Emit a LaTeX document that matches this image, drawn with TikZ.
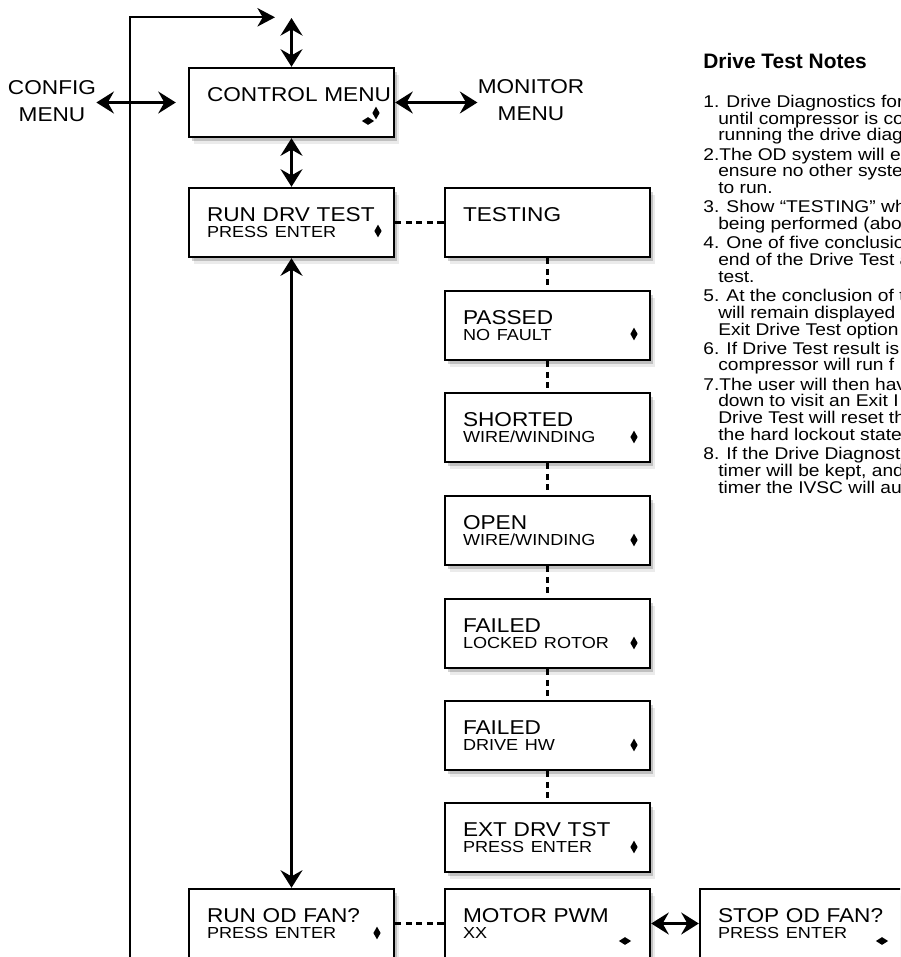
\documentclass[tikz,border=0pt]{standalone}
\usepackage{fontspec}
\setmainfont{Liberation Sans}
\newfontfamily\boxfont[FakeStretch=1.13]{Liberation Sans}
\newfontfamily\notefont[FakeStretch=1.13]{Liberation Sans}
\newfontfamily\headfont{Liberation Sans Bold}
\usetikzlibrary{arrows.meta,positioning,shapes.geometric,shadows}
\newcommand{\lowline}[1]{{\fontsize{9.1}{9.1}\selectfont #1}}
\newcommand{\hang}{\hspace*{8.5pt}}

\begin{document}
\begin{tikzpicture}[x=0.02cm,y=-0.02cm,
  screen/.style={draw,line width=1.4pt,fill=white,minimum width=4.1cm,minimum height=1.38cm,
    inner xsep=0.36cm,text width=3.38cm,align=left,font=\boxfont\fontsize{11.4}{9.1}\selectfont,
    drop shadow={shadow xshift=1.5pt,shadow yshift=-2pt,opacity=.18,fill=black},
    drop shadow={shadow xshift=3pt,shadow yshift=-4pt,opacity=.08,fill=black}},
  vdia/.style={diamond,fill=black,inner sep=0pt,minimum width=0.15cm,minimum height=0.26cm},
  hdia/.style={diamond,fill=black,inner sep=0pt,minimum width=0.25cm,minimum height=0.16cm},
  menu/.style={font=\boxfont\fontsize{11.4}{15.4}\selectfont,align=center,inner sep=0pt},
  link/.style={{Stealth[length=10pt,width=12.5pt,inset=3.5pt]}-{Stealth[length=10pt,width=12.5pt,inset=3.5pt]},line width=1.8pt},
  back/.style={-{Stealth[length=10pt,width=10.5pt,inset=3pt]},line width=1.25pt},
  dotline/.style={dash pattern=on 3.5pt off 2.5pt,line width=1.7pt},
  notes/.style={font=\notefont\fontsize{9.67}{9.55}\selectfont,align=left,inner sep=0pt}]
  \useasboundingbox (0,0) rectangle (900,957);
  \clip (0,0) rectangle (900,957);
  \fill[white] (0,0) rectangle (900,957);
  % Menus
  \node[screen] (ctrl) at (291.5,102.5) {CONTROL~MENU\\\mbox{}};
  \node[vdia] (ctrlkeyv) at ([shift={(84.5,10.5)}]ctrl.center) {};
  \node[hdia] (ctrlkeyh) at ([shift={(76.5,18.5)}]ctrl.center) {};
  \node[menu] (config) at (52,101) {CONFIG\\MENU};
  \node[menu] (monitor) at (531,100.5) {MONITOR\\MENU};
  % Drive test
  \node[screen] (rundrv) at (291.5,222.5) {RUN DRV TEST\\\lowline{PRESS ENTER}};
  \node[vdia] (rundrvkey) at ([shift={(86.5,8.5)}]rundrv.center) {};
  \node[screen] (testing) at (547.5,222.5) {TESTING\\\mbox{}};
  \node[screen] (passed) at (547.5,325.5) {PASSED\\\lowline{NO FAULT}};
  \node[vdia] (passedkey) at ([shift={(86.5,8.5)}]passed.center) {};
  \node[screen] (shorted) at (547.5,427.5) {SHORTED\\\lowline{WIRE/WINDING}};
  \node[vdia] (shortedkey) at ([shift={(86.5,9.5)}]shorted.center) {};
  \node[screen] (open) at (547.5,530.5) {OPEN\\\lowline{WIRE/WINDING}};
  \node[vdia] (openkey) at ([shift={(86.5,9.5)}]open.center) {};
  \node[screen] (locked) at (547.5,633.5) {FAILED\\\lowline{LOCKED ROTOR}};
  \node[vdia] (lockedkey) at ([shift={(86.5,9.5)}]locked.center) {};
  \node[screen] (drivehw) at (547.5,735.5) {FAILED\\\lowline{DRIVE HW}};
  \node[vdia] (drivehwkey) at ([shift={(86.5,9.5)}]drivehw.center) {};
  \node[screen] (extdrv) at (547.5,837.5) {EXT DRV TST\\\lowline{PRESS ENTER}};
  \node[vdia] (extdrvkey) at ([shift={(86.5,9.5)}]extdrv.center) {};
  % OD fan
  \node[screen] (runfan) at (291.5,923.5) {RUN OD FAN?\\\lowline{PRESS ENTER}};
  \node[vdia] (runfankey) at ([shift={(85.5,9.5)}]runfan.center) {};
  \node[screen] (motor) at (547.5,923.5) {MOTOR PWM\\\lowline{XX}};
  \node[hdia] (motorkey) at ([shift={(77.5,17.5)}]motor.center) {};
  \node[screen] (stopfan) at (802.5,923.5) {STOP OD FAN?\\\lowline{PRESS ENTER}};
  \node[hdia] (stopfankey) at ([shift={(79.5,17.5)}]stopfan.center) {};
  % Links
  \coordinate (ctrltop) at (291.5,18);
  \coordinate (loopstart) at (130,960);
  \coordinate (looptip) at (275,17.3);
  \draw[back] (loopstart) |- (looptip);
  \draw[link] (ctrltop) -- (ctrl.north);
  \draw[link] (config.east |- ctrl.west) -- ([xshift=-0.24cm]ctrl.west);
  \draw[link] (ctrl.east) -- (ctrl.east -| monitor.west);
  \draw[link] (ctrl.south) -- (rundrv.north);
  \draw[link] (rundrv.south) -- (runfan.north);
  \draw[link] (motor.east) -- (stopfan.west);
  \draw[dotline] (rundrv.east) -- (testing.west);
  \draw[dotline] (runfan.east) -- (motor.west);
  \foreach \a/\b in {testing/passed,passed/shorted,shorted/open,open/locked,locked/drivehw,drivehw/extdrv}
    \draw[dotline] (\a.south) -- (\b.north);
  % Notes
  \node[font=\headfont\fontsize{11.9}{13}\selectfont,anchor=base west,inner sep=0pt] (notehead) at (703,68) {Drive Test Notes};
  \node[notes,anchor=north west] (notelist) at (703,94.6) {%
    1. Drive Diagnostics for\\
    \hang until compressor is co\\
    \hang running the drive diag\\[1.37pt]
    2.The OD system will e\\
    \hang ensure no other syste\\
    \hang to run.\\[1.37pt]
    3. Show “TESTING” wh\\
    \hang being performed (abo\\[1.37pt]
    4. One of five conclusio\\
    \hang end of the Drive Test a\\
    \hang test.\\[1.37pt]
    5. At the conclusion of t\\
    \hang will remain displayed\\
    \hang Exit Drive Test option\\[1.37pt]
    6. If Drive Test result is t\\
    \hang compressor will run f\\[1.37pt]
    7.The user will then hav\\
    \hang down to visit an Exit I\\
    \hang Drive Test will reset th\\
    \hang the hard lockout state\\[1.37pt]
    8. If the Drive Diagnost\\
    \hang timer will be kept, and\\
    \hang timer the IVSC will au};
\end{tikzpicture}
\end{document}
